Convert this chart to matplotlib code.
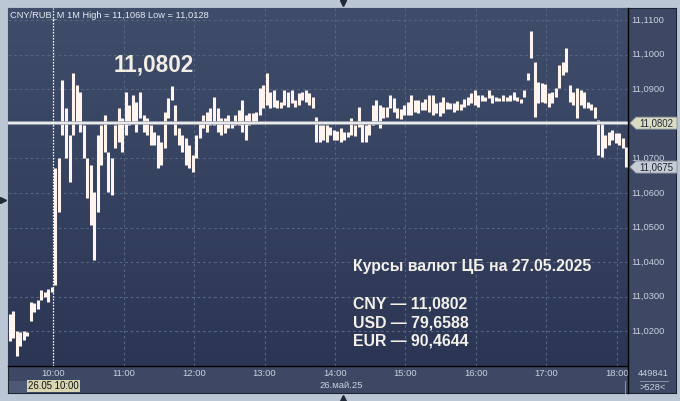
import numpy as np
import matplotlib
matplotlib.use('Agg')
import matplotlib.pyplot as plt
from matplotlib.patches import Rectangle, Polygon
from matplotlib.lines import Line2D
from matplotlib.colors import LinearSegmentedColormap

plt.rcParams['font.family'] = ['Liberation Sans', 'DejaVu Sans']

# ---------------- data (3-minute bars, CNY/RUB) ----------------
start_min = 9 * 60 + 22  # 09:22
bar_step = 3
highs = [
    11.0250, 11.0258, 11.0200, 11.0198, 11.0200, 11.0198, 11.0285, 11.0283, 11.0290, 11.0320,
    11.0315, 11.0323, 11.0328, 11.0672, 11.0700, 11.0927, 11.0846, 11.0768, 11.0947, 11.0912,
    11.0892, 11.0797, 11.0701, 11.0681, 11.0603, 11.0768, 11.0797, 11.0826, 11.0719, 11.0701,
    11.0797, 11.0846, 11.0817, 11.0892, 11.0854, 11.0883, 11.0863, 11.0892, 11.0826, 11.0817,
    11.0797, 11.0776, 11.0768, 11.0747, 11.0834, 11.0875, 11.0909, 11.0854, 11.0788, 11.0768,
    11.0759, 11.0739, 11.0710, 11.0768, 11.0805, 11.0826, 11.0834, 11.0846, 11.0878, 11.0846,
    11.0817, 11.0817, 11.0826, 11.0805, 11.0826, 11.0840, 11.0869, 11.0826, 11.0831, 11.0831,
    11.0834, 11.0903, 11.0912, 11.0947, 11.0892, 11.0898, 11.0869, 11.0863, 11.0898, 11.0892,
    11.0898, 11.0869, 11.0889, 11.0892, 11.0898, 11.0889, 11.0878, 11.0820, 11.0797, 11.0797,
    11.0797, 11.0791, 11.0782, 11.0779, 11.0788, 11.0776, 11.0776, 11.0817, 11.0797, 11.0849,
    11.0805, 11.0797, 11.0805, 11.0854, 11.0869, 11.0854, 11.0849, 11.0849, 11.0883, 11.0875,
    11.0846, 11.0843, 11.0854, 11.0863, 11.0883, 11.0869, 11.0869, 11.0863, 11.0872, 11.0883,
    11.0883, 11.0860, 11.0863, 11.0878, 11.0863, 11.0860, 11.0860, 11.0866, 11.0857, 11.0872,
    11.0878, 11.0889, 11.0898, 11.0883, 11.0883, 11.0878, 11.0898, 11.0883, 11.0878, 11.0875,
    11.0883, 11.0878, 11.0883, 11.0892, 11.0878, 11.0872, 11.0898, 11.0947, 11.1068, 11.0979,
    11.0921, 11.0918, 11.0915, 11.0889, 11.0892, 11.0903, 11.0970, 11.0979, 11.1019, 11.0912,
    11.0892, 11.0903, 11.0898, 11.0892, 11.0863, 11.0857, 11.0849, 11.0811, 11.0805, 11.0768,
    11.0776, 11.0782, 11.0773, 11.0773, 11.0759, 11.0733]
lows = [
    11.0172, 11.0180, 11.0128, 11.0158, 11.0175, 11.0188, 11.0230, 11.0256, 11.0265, 11.0290,
    11.0300, 11.0285, 11.0315, 11.0335, 11.0545, 11.0768, 11.0701, 11.0632, 11.0768, 11.0805,
    11.0776, 11.0701, 11.0586, 11.0507, 11.0406, 11.0545, 11.0681, 11.0719, 11.0603, 11.0594,
    11.0730, 11.0747, 11.0719, 11.0768, 11.0797, 11.0805, 11.0776, 11.0817, 11.0776, 11.0768,
    11.0739, 11.0739, 11.0672, 11.0681, 11.0730, 11.0817, 11.0869, 11.0768, 11.0739, 11.0719,
    11.0681, 11.0672, 11.0661, 11.0701, 11.0759, 11.0788, 11.0776, 11.0797, 11.0797, 11.0776,
    11.0768, 11.0773, 11.0788, 11.0788, 11.0797, 11.0797, 11.0776, 11.0753, 11.0797, 11.0805,
    11.0802, 11.0826, 11.0846, 11.0854, 11.0846, 11.0849, 11.0846, 11.0846, 11.0854, 11.0849,
    11.0860, 11.0849, 11.0854, 11.0869, 11.0863, 11.0854, 11.0846, 11.0747, 11.0747, 11.0753,
    11.0747, 11.0768, 11.0753, 11.0753, 11.0747, 11.0753, 11.0762, 11.0768, 11.0765, 11.0791,
    11.0747, 11.0747, 11.0768, 11.0797, 11.0805, 11.0788, 11.0817, 11.0820, 11.0846, 11.0834,
    11.0817, 11.0814, 11.0826, 11.0826, 11.0826, 11.0834, 11.0831, 11.0840, 11.0840, 11.0834,
    11.0826, 11.0831, 11.0823, 11.0831, 11.0843, 11.0843, 11.0834, 11.0840, 11.0840, 11.0849,
    11.0854, 11.0860, 11.0854, 11.0849, 11.0866, 11.0866, 11.0875, 11.0860, 11.0866, 11.0866,
    11.0866, 11.0866, 11.0866, 11.0869, 11.0866, 11.0860, 11.0878, 11.0927, 11.0990, 11.0820,
    11.0860, 11.0863, 11.0860, 11.0849, 11.0860, 11.0878, 11.0903, 11.0941, 11.0950, 11.0863,
    11.0854, 11.0817, 11.0854, 11.0846, 11.0846, 11.0840, 11.0817, 11.0710, 11.0704, 11.0730,
    11.0739, 11.0753, 11.0745, 11.0739, 11.0730, 11.0675]
times = start_min + bar_step * np.arange(len(highs)) + 1

cb_rate = 11.0802
last_price = 11.0675
hour_ticks = [10, 11, 12, 13, 14, 15, 16, 17, 18]
price_ticks = [11.02, 11.03, 11.04, 11.05, 11.06, 11.07, 11.09, 11.10, 11.11]
grid_levels = [11.02, 11.03, 11.04, 11.05, 11.06, 11.07, 11.08, 11.09, 11.10, 11.11]
header = "CNY/RUB_M 1M High = 11,1068 Low = 11,0128"
info_title = "Курсы валют ЦБ на 27.05.2025"
info_lines = ["CNY — 11,0802", "USD — 79,6588", "EUR — 90,4644"]
date_label = "26.май.25"
cursor_label = "26.05 10:00"

# ---------------- figure ----------------
W, H = 680, 401
fig = plt.figure(figsize=(W / 100, H / 100), dpi=100, facecolor='#bcc7d6')

def fx(px):
    return px / W

def fy(py):
    return 1 - py / H

panel_col = '#3d4964'
panel = fig.add_axes([fx(8), fy(393), (676 - 8) / W, (393 - 8) / H])
panel.set_facecolor(panel_col)
panel.set_xticks([]); panel.set_yticks([])
for s in panel.spines.values():
    s.set_color('#1c2436'); s.set_linewidth(0.8)

ax = fig.add_axes([fx(8), fy(366), 620 / W, 358 / H])
x0, x1 = 561.65, 1089.4
y0, y1 = 11.0100, 11.11347
ax.set_xlim(x0, x1); ax.set_ylim(y0, y1)
cmap = LinearSegmentedColormap.from_list('bg', ['#3f4d6b', '#2b3654'])
ax.imshow(np.linspace(0, 1, 256).reshape(-1, 1), cmap=cmap, extent=[x0, x1, y0, y1],
          aspect='auto', origin='upper', zorder=0)
ax.set_xticks([]); ax.set_yticks([])
for s in ax.spines.values():
    s.set_visible(False)

# grid
for v in grid_levels:
    ax.axhline(v, color='#56647f', lw=0.8, ls=(0, (2.5, 2.5)), zorder=1)
for h in hour_ticks:
    ax.axvline(h * 60, color='#56647f', lw=0.8, ls=(0, (2.5, 2.5)), zorder=1)

# bars
ax.vlines(times, lows, highs, colors='#fff5ee', lw=2.2, zorder=3)

# CB rate line
ax.axhline(cb_rate, color='#a3a8b0', lw=2.6, zorder=4)
ax.axhline(cb_rate, color='#ffffff', lw=1.1, zorder=5)

# cursor
ax.axvline(600, color='#ffffff', lw=0.9, ls=(0, (1.2, 1.2)), zorder=5)

# axis lines
fig.add_artist(Line2D([fx(628), fx(628)], [fy(8), fy(393)], color='black', lw=1.0))
fig.add_artist(Line2D([fx(8), fx(628)], [fy(366), fy(366)], color='black', lw=1.0))

# right price labels
ytr = ax.get_yaxis_transform()
for v in price_ticks:
    ax.text(1.0048, v, f"{v:.4f}".replace('.', ','), transform=ytr, va='center', ha='left',
            fontsize=6.7, color='#c9d1de', clip_on=False, zorder=6)

px_ax = 1 / 620
px_dat = (y1 - y0) / 358

def price_box(v, fc):
    pts = [(1 + 2 * px_ax, v), (1 + 8 * px_ax, v + 6 * px_dat), (1 + 49 * px_ax, v + 6 * px_dat),
           (1 + 49 * px_ax, v - 6 * px_dat), (1 + 8 * px_ax, v - 6 * px_dat)]
    poly = Polygon(pts, closed=True, transform=ytr, facecolor=fc, edgecolor='#8d94a0',
                   lw=0.6, clip_on=False, zorder=7)
    ax.add_patch(poly)
    ax.text(1 + 11 * px_ax, v, f"{v:.4f}".replace('.', ','), transform=ytr, va='center',
            ha='left', fontsize=6.9, color='#1e2738', clip_on=False, zorder=8)

price_box(cb_rate, '#d9dcc1')
price_box(last_price, '#c6cbd4')

# x labels
xtr = ax.get_xaxis_transform()
for h in hour_ticks:
    ax.text(h * 60, -8 / 358, f"{h}:00", transform=xtr, ha='center', va='center',
            fontsize=6.8, color='#c9d1de', clip_on=False)
ax.text(14 * 60 + 5, -20 / 358, date_label, transform=xtr, ha='center', va='center',
        fontsize=6.8, color='#c9d1de', clip_on=False)

# bottom-left strip and cursor date box
fig.add_artist(Rectangle((fx(8.5), fy(392.5)), 19 / W, 12 / H, facecolor='#4d5975',
                         edgecolor='none', transform=fig.transFigure))
fig.add_artist(Rectangle((fx(27), fy(392)), 53 / W, 12 / H, facecolor='#d8d6b2',
                         edgecolor='none', transform=fig.transFigure))
fig.text(fx(53.5), fy(386), cursor_label, ha='center', va='center', fontsize=6.9, color='#111111')

# bottom-right counters
fig.text(fx(653), fy(374), "449841", ha='center', va='center', fontsize=6.7, color='#c9d1de')
fig.text(fx(653), fy(387), ">528<", ha='center', va='center', fontsize=6.7, color='#c9d1de')
fig.add_artist(Line2D([fx(640), fx(668)], [fy(380.5), fy(380.5)], color='#8a94a8', lw=0.7))
fig.add_artist(Line2D([fx(625), fx(625)], [fy(381), fy(393)], color='#8a94a8', lw=0.7))

# header and texts
fig.text(fx(10), fy(15), header, ha='left', va='center', fontsize=6.7, color='#e8ecf2')
fig.text(fx(154), fy(65), "11,0802", ha='center', va='center', fontsize=16.3,
         fontweight='bold', color='#f2eee6')
fig.text(fx(353), fy(267), info_title, ha='left', va='center', fontsize=11.4,
         fontweight='bold', color='#f4f0ea')
for i, line in enumerate(info_lines):
    fig.text(fx(353), fy(304 + 18.5 * i), line, ha='left', va='center', fontsize=11.4,
             fontweight='bold', color='#f4f0ea')

# small navigation triangles
fig.add_artist(Line2D([fx(343)], [fy(3)], marker='v', ms=5, color='#1f2937', lw=0))
fig.add_artist(Line2D([fx(343)], [fy(398)], marker='^', ms=5, color='#1f2937', lw=0))
fig.add_artist(Line2D([fx(3)], [fy(200)], marker='>', ms=4, color='#1f2937', lw=0))

fig.savefig('out.png', dpi=100, facecolor=fig.get_facecolor())
